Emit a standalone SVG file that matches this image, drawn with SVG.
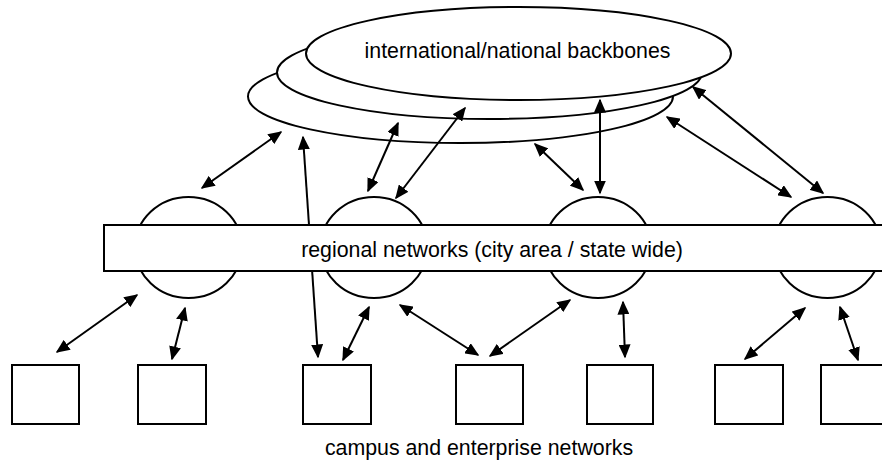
<svg xmlns="http://www.w3.org/2000/svg" width="882" height="461" viewBox="0 0 882 461">
  <style>
    .shape { fill: #ffffff; stroke: #000000; stroke-width: 2; }
    .link { stroke: #000000; stroke-width: 2; fill: none; marker-start: url(#head); marker-end: url(#head); }
    .label { font-family: "Liberation Sans", Arial, sans-serif; font-size: 21.33px; fill: #000000; text-anchor: middle; }
  </style>
  <defs>
    <marker id="head" viewBox="0 0 14 12" refX="12.5" refY="6" markerWidth="14" markerHeight="12" markerUnits="userSpaceOnUse" orient="auto-start-reverse">
      <path d="M0,0 L14,6 L0,12 Z" fill="#000000"/>
    </marker>
  </defs>

  <rect width="882" height="461" fill="#ffffff"/>

  <!-- backbone tier: three stacked ellipses -->
  <g id="backbones">
    <ellipse class="shape" cx="460.5" cy="96.5" rx="212.5" ry="46.5"/>
    <ellipse class="shape" cx="489.5" cy="72.5" rx="212.5" ry="46.5"/>
    <ellipse class="shape" cx="518.5" cy="53.5" rx="212.5" ry="46.5"/>
    <text class="label" x="517.5" y="58">international/national backbones</text>
  </g>

  <!-- links between tiers (the regional bar is drawn over them) -->
  <g id="connectors">
    <line class="link" x1="281" y1="132" x2="202" y2="188"/>
    <line class="link" x1="303" y1="137" x2="318" y2="357"/>
    <line class="link" x1="398" y1="123" x2="368" y2="191"/>
    <line class="link" x1="465" y1="108" x2="396" y2="198"/>
    <line class="link" x1="535" y1="144" x2="583" y2="190"/>
    <line class="link" x1="600" y1="100" x2="600" y2="193"/>
    <line class="link" x1="667" y1="117" x2="791" y2="197"/>
    <line class="link" x1="693" y1="87" x2="823" y2="193"/>

    <line class="link" x1="57" y1="352" x2="137" y2="295"/>
    <line class="link" x1="185" y1="308" x2="172" y2="359"/>
    <line class="link" x1="343" y1="360" x2="369" y2="307"/>
    <line class="link" x1="400" y1="305" x2="478" y2="355"/>
    <line class="link" x1="490" y1="356" x2="570" y2="300"/>
    <line class="link" x1="623" y1="302" x2="625" y2="357"/>
    <line class="link" x1="745" y1="359" x2="805" y2="308"/>
    <line class="link" x1="840" y1="307" x2="858" y2="360"/>
  </g>

  <!-- regional tier -->
  <g id="region-1"><ellipse class="shape" cx="188.5" cy="247.5" rx="53.5" ry="50.5"/></g>
  <g id="region-2"><ellipse class="shape" cx="374" cy="247.5" rx="53.5" ry="50.5"/></g>
  <g id="region-3"><ellipse class="shape" cx="598" cy="247.5" rx="53.5" ry="50.5"/></g>
  <g id="region-4"><ellipse class="shape" cx="827.5" cy="247.5" rx="53.5" ry="50.5"/></g>
  <g id="regional">
    <rect class="shape" x="104" y="225" width="800" height="46"/>
    <text class="label" x="492" y="257">regional networks (city area / state wide)</text>
  </g>

  <!-- campus tier -->
  <g id="campus-1"><rect class="shape" x="12" y="365" width="67" height="59"/></g>
  <g id="campus-2"><rect class="shape" x="138" y="365" width="68" height="59"/></g>
  <g id="campus-3"><rect class="shape" x="303" y="365" width="68" height="59"/></g>
  <g id="campus-4"><rect class="shape" x="456" y="365" width="67" height="59"/></g>
  <g id="campus-5"><rect class="shape" x="587" y="365" width="66" height="59"/></g>
  <g id="campus-6"><rect class="shape" x="715" y="365" width="68" height="59"/></g>
  <g id="campus-7"><rect class="shape" x="821" y="365" width="68" height="59"/></g>
  <g id="campus-label">
    <text class="label" x="479" y="455">campus and enterprise networks</text>
  </g>
</svg>
